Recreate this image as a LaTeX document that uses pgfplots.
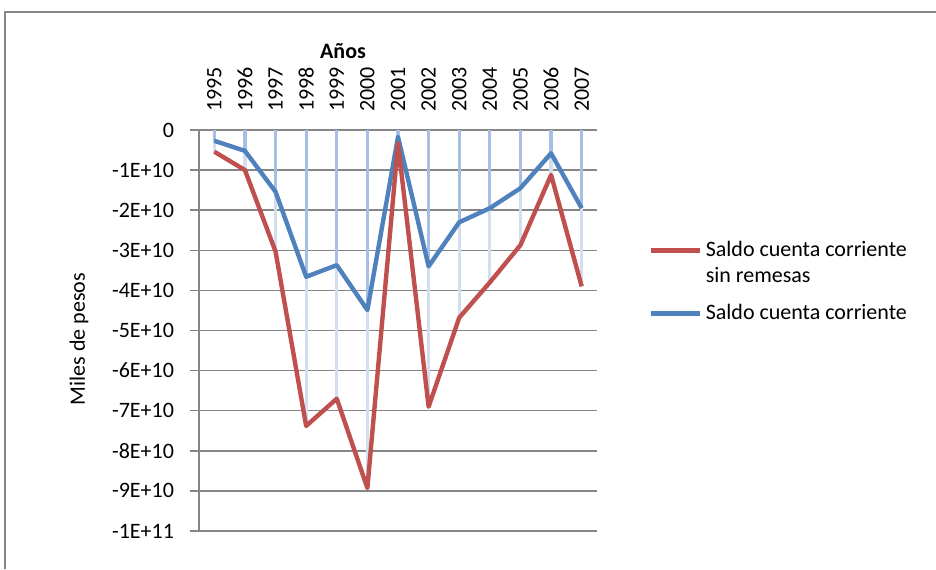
\documentclass[border=0pt]{standalone}
\usepackage{pgfplots}
\usepackage{pgfplotstable}
\pgfplotsset{compat=1.18}
\usepackage{fontspec}
\setmainfont{Carlito}

\definecolor{xlred}{HTML}{C0504D}
\definecolor{xlblue}{HTML}{4F81BD}
\definecolor{dropdark}{HTML}{A7BEE6}
\definecolor{droplight}{HTML}{D3DEF1}
\definecolor{gridgray}{HTML}{868686}

% year, saldo cuenta corriente, saldo sin remesas (miles de pesos)
\pgfplotstableread{
year con sin
1995 -2.7e9 -5.4e9
1996 -5.2e9 -1.0e10
1997 -1.54e10 -3.03e10
1998 -3.66e10 -7.38e10
1999 -3.37e10 -6.7e10
2000 -4.49e10 -8.93e10
2001 -1.7e9 -3.3e9
2002 -3.4e10 -6.9e10
2003 -2.3e10 -4.68e10
2004 -1.95e10 -3.8e10
2005 -1.45e10 -2.87e10
2006 -5.8e9 -1.12e10
2007 -1.95e10 -3.9e10
}\datatable

\begin{document}
\begin{tikzpicture}[x=1pt,y=1pt]
\useasboundingbox (0,0) rectangle (468,284.5);
\draw[gridgray, line width=1pt] (2.5,0) -- (2.5,278.5) -- (470,278.5);
\begin{axis}[
    at={(99.5pt,19pt)}, anchor=south west,
    scale only axis,
    width=199pt, height=200.5pt,
    font=\fontsize{11}{13}\selectfont,
    xmin=1994.5, xmax=2007.5,
    ymin=-1e11, ymax=0,
    scaled y ticks=false,
    axis x line*=top, axis y line*=left,
    axis line style={gridgray, line width=0.75pt},
    xtick={1995,1996,1997,1998,1999,2000,2001,2002,2003,2004,2005,2006,2007},
    xticklabels={1995,1996,1997,1998,1999,2000,2001,2002,2003,2004,2005,2006,2007},
    xtick style={draw=none},
    xticklabel style={yshift=1pt, rotate=90, anchor=west},
    ytick={0,-1e10,-2e10,-3e10,-4e10,-5e10,-6e10,-7e10,-8e10,-9e10,-1e11},
    yticklabels={0,-1E+10,-2E+10,-3E+10,-4E+10,-5E+10,-6E+10,-7E+10,-8E+10,-9E+10,-1E+11},
    yticklabel style={xshift=-4.5pt},
    ytick style={gridgray, line width=0.75pt},
    tick align=outside, major tick length=4.5pt,
    ymajorgrids, major grid style={gridgray, line width=0.75pt},
    reverse legend,
    legend style={draw=none, fill=none, at={(1.113,0.744)}, anchor=north west,
        cells={anchor=base west}, row sep=18.5pt},
    legend image code/.code={\draw[#1] (0pt,3pt) -- (24.5pt,3pt);},
]
\addplot[ycomb, droplight, line width=1.6pt, forget plot] table[x=year, y=sin] \datatable;
\addplot[ycomb, dropdark, line width=1.6pt, forget plot] table[x=year, y=con] \datatable;
\addplot[xlblue, line width=2.2pt, line join=round] table[x=year, y=con] \datatable;
\addplot[xlred, line width=2.2pt, line join=round] table[x=year, y=sin] \datatable;
\legend{Saldo cuenta corriente, {\vtop{\hbox{Saldo cuenta corriente}\hbox{sin remesas}}}}
\end{axis}
\node[font=\fontsize{11}{13}\selectfont\bfseries] at (171.5,259) {Años};
\node[font=\fontsize{11}{13}\selectfont, rotate=90] at (39.5,115) {Miles de pesos};
\end{tikzpicture}
\end{document}
